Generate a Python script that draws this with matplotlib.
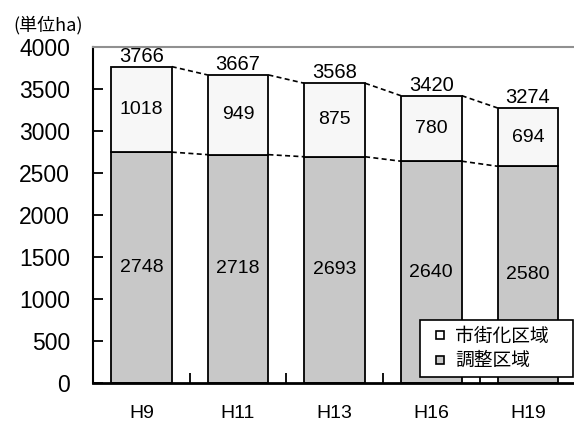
import matplotlib.pyplot as plt
from matplotlib.lines import Line2D
import numpy as np

plt.rcParams['font.family'] = ['Liberation Sans', 'Noto Sans CJK JP', 'DejaVu Sans']

years = ['H9', 'H11', 'H13', 'H16', 'H19']
chosei = [2748, 2718, 2693, 2640, 2580]     # 調整区域
shigaika = [1018, 949, 875, 780, 694]       # 市街化区域
totals = [3766, 3667, 3568, 3420, 3274]

fig = plt.figure(figsize=(5.74, 4.23), dpi=100)
ax = fig.add_axes([0.162, 0.0946, 0.842, 0.7944])

x = np.arange(len(years))
w = 0.63
ax.bar(x, chosei, w, color='#c8c8c8', edgecolor='black', linewidth=1.3, zorder=2)
ax.bar(x, shigaika, w, bottom=chosei, color='#f7f7f7', edgecolor='black', linewidth=1.3, zorder=2)

# dashed connectors between bars
for i in range(len(years) - 1):
    ax.plot([x[i] + w / 2, x[i + 1] - w / 2], [totals[i], totals[i + 1]],
            color='black', linestyle=(0, (3, 2)), linewidth=1.2, zorder=1)
    ax.plot([x[i] + w / 2, x[i + 1] - w / 2], [chosei[i], chosei[i + 1]],
            color='black', linestyle=(0, (3, 2)), linewidth=1.2, zorder=1)

for i in range(len(years)):
    ax.text(x[i], chosei[i] / 2, str(chosei[i]), ha='center', va='center', fontsize=14)
    ax.text(x[i], chosei[i] + shigaika[i] / 2, str(shigaika[i]), ha='center', va='center', fontsize=14)
    ax.text(x[i], totals[i] + 10, str(totals[i]), ha='center', va='bottom', fontsize=14.5)

ax.set_xlim(-0.5, 4.5)
ax.set_ylim(0, 4000)
ax.set_yticks(range(0, 4001, 500))
ax.tick_params(axis='y', direction='in', length=7, width=1.3, labelsize=16.5, pad=16.5)
ax.set_xticks(x[:-1] + 0.5)
ax.set_xticklabels([])
ax.tick_params(axis='x', direction='in', length=7, width=1.3)
# year labels sit low, near the bottom edge, as in the original
for i, yr in enumerate(years):
    ax.text(x[i], -462, yr, ha='center', va='bottom', fontsize=14, clip_on=False)

ax.spines['left'].set_linewidth(1.5)
ax.spines['bottom'].set_linewidth(2)
ax.spines['top'].set_color('#909090')
ax.spines['top'].set_linewidth(1.5)
ax.spines['right'].set_visible(False)

fig.text(0.024, 0.94, '(単位ha)', fontsize=13, va='center',
         family=['Noto Sans CJK JP', 'DejaVu Sans'])

handles = [Line2D([], [], linestyle='none', marker='s', markersize=6, markerfacecolor='white',
                  markeredgecolor='black', markeredgewidth=1.2),
           Line2D([], [], linestyle='none', marker='s', markersize=6, markerfacecolor='#c8c8c8',
                  markeredgecolor='black', markeredgewidth=1.2)]
labels = ['市街化区域\u3000', '調整区域']
leg = ax.legend(handles, labels, loc='lower right', bbox_to_anchor=(0.994, 0.018),
                borderaxespad=0,
                prop={'family': ['Noto Sans CJK JP', 'DejaVu Sans'], 'size': 13.5},
                fancybox=False, framealpha=1, edgecolor='black', handlelength=1.6,
                handletextpad=0.0, borderpad=0.3, labelspacing=0.2)
leg.get_frame().set_linewidth(1.2)

fig.savefig('out.png', dpi=100)
